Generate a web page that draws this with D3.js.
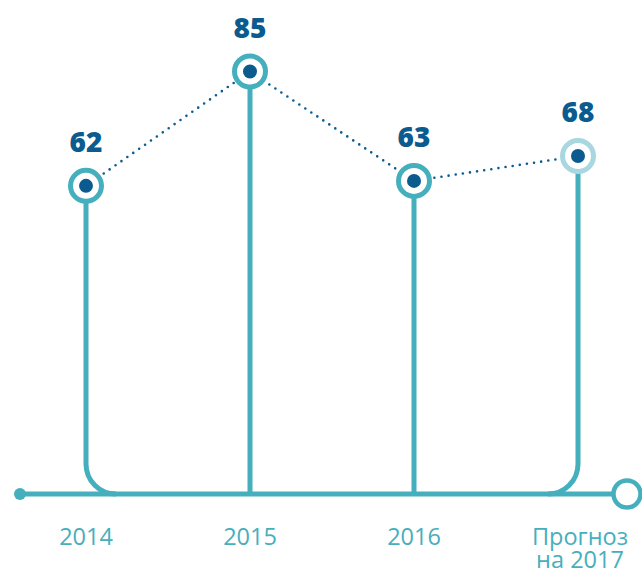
<!DOCTYPE html>
<html>
<head>
<meta charset="utf-8">
<script src="https://cdn.jsdelivr.net/npm/d3@7"></script>
<style>
  html, body { margin: 0; padding: 0; background: #fff; }
  svg { display: block; }
</style>
</head>
<body>
<div id="chart"></div>
<script>
// Data
const categories = ["2014", "2015", "2016", "2017"];
const values = [62, 85, 63, 68];
const axisLabels = [["2014"], ["2015"], ["2016"], ["Прогноз", "на 2017"]];
const forecast = [false, false, false, true];

const W = 642, H = 572;
const teal = "#46afbd";
const lightTeal = "#a9d7df";
const navy = "#0b5b8f";

const svg = d3.select("#chart").append("svg")
  .attr("width", W).attr("height", H);

const x = d3.scalePoint().domain(categories).range([86, 578]);
const y = d3.scaleLinear().domain([0, 100]).range([494, -3]);
const base = y(0);
const cornerR = 30;

// Baseline with start dot and open end circle
svg.append("line")
  .attr("x1", 20).attr("x2", 613)
  .attr("y1", base).attr("y2", base)
  .attr("stroke", teal).attr("stroke-width", 5);
svg.append("circle").attr("cx", 20).attr("cy", base).attr("r", 6).attr("fill", teal);
svg.append("circle").attr("cx", 627).attr("cy", base).attr("r", 13.5)
  .attr("fill", "#fff").attr("stroke", teal).attr("stroke-width", 4.5);

// Stems: the outer ones bend into the baseline
const last = categories.length - 1;
svg.append("g").selectAll("path")
  .data(categories)
  .join("path")
  .attr("fill", "none")
  .attr("stroke", teal)
  .attr("stroke-width", 5)
  .attr("d", (c, i) => {
    const cx = x(c), cy = y(values[i]);
    if (i === 0) {
      return `M${cx},${cy}V${base - cornerR}A${cornerR},${cornerR} 0 0 0 ${cx + cornerR},${base}`;
    }
    if (i === last) {
      return `M${cx},${cy}V${base - cornerR}A${cornerR},${cornerR} 0 0 1 ${cx - cornerR},${base}`;
    }
    return `M${cx},${cy}V${base}`;
  });

// Dotted connector between the values
const line = d3.line().x((d, i) => x(categories[i])).y(d => y(d));
svg.append("path")
  .datum(values)
  .attr("d", line)
  .attr("fill", "none")
  .attr("stroke", navy)
  .attr("stroke-width", 2.6)
  .attr("stroke-linecap", "round")
  .attr("stroke-dasharray", "0 7.2");

// Markers
const markers = svg.append("g").selectAll("g")
  .data(categories)
  .join("g")
  .attr("transform", (c, i) => `translate(${x(c)},${y(values[i])})`);
markers.append("circle")
  .attr("r", 15.5)
  .attr("fill", "#fff")
  .attr("stroke", (c, i) => forecast[i] ? lightTeal : teal)
  .attr("stroke-width", 5);
markers.append("circle")
  .attr("r", 7)
  .attr("fill", navy);

// Value labels
svg.append("g").selectAll("text")
  .data(categories)
  .join("text")
  .attr("x", c => x(c))
  .attr("y", (c, i) => y(values[i]) - 34)
  .attr("text-anchor", "middle")
  .attr("font-family", "'Open Sans', sans-serif")
  .attr("font-weight", 800)
  .attr("font-size", 28)
  .attr("fill", navy)
  .text((c, i) => values[i]);

// Category labels
const lab = svg.append("g").selectAll("text")
  .data(categories)
  .join("text")
  .attr("x", (c, i) => x(c) + (axisLabels[i].length > 1 ? 2 : 0))
  .attr("y", 545)
  .attr("text-anchor", "middle")
  .attr("font-family", "'Open Sans', sans-serif")
  .attr("font-weight", 400)
  .attr("font-size", 23.5)
  .attr("fill", teal);
lab.each(function(c, i) {
  const t = d3.select(this);
  axisLabels[i].forEach((s, k) => {
    t.append("tspan")
      .attr("x", t.attr("x"))
      .attr("dy", k === 0 ? 0 : 23)
      .text(s);
  });
});
</script>
</body>
</html>
